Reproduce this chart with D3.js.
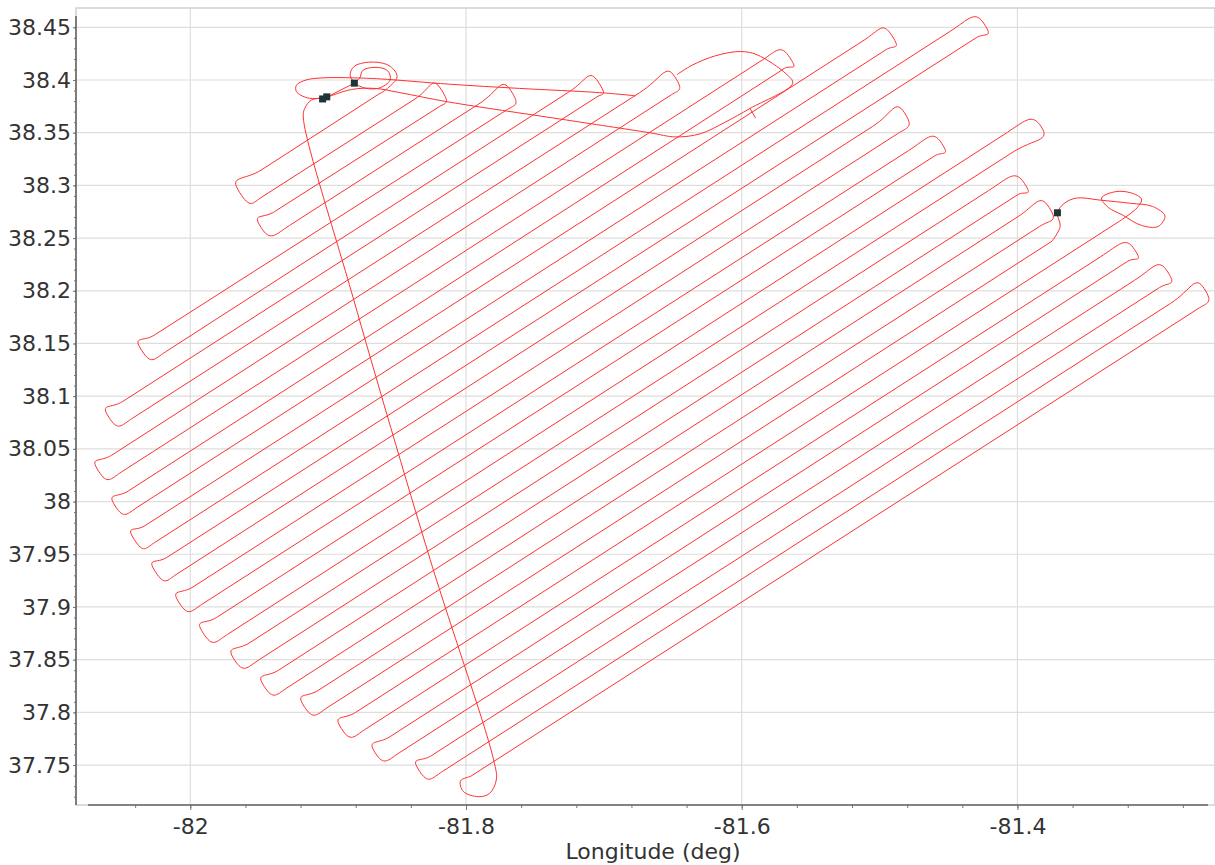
<!DOCTYPE html>
<html>
<head>
<meta charset="utf-8">
<script src="https://cdn.jsdelivr.net/npm/d3@7"></script>
<style>
  body { margin: 0; background: #fff; }
  svg { display: block; font-family: "DejaVu Sans", Verdana, sans-serif; }
  .grid line { stroke: #dedede; stroke-width: 1.2; }
  .track path { fill: none; stroke: #ff3030; stroke-width: 1; }
  .axis text { font-family: "DejaVu Sans", Verdana, sans-serif; font-size: 22px; fill: #333; }
  .axis line { stroke: #777; }
  .axis path { display: none; }
</style>
</head>
<body>
<script>
/*
 * Survey flight track, longitude / latitude (deg).
 * Survey lines run SW-NE; k = 0 is the SE-most line, k = 32 the NW-most.
 */

const lineWestLon = [-81.797, -81.817, -81.825, -81.848, -81.855, -81.873, -81.880, -81.900, -81.907, -81.929,
  -81.936, -81.950, -81.957, -81.973, -81.981, -81.991, -81.998, -82.010, -82.017, -82.026,
  -82.033, -82.038, -82.045, -82.050, -82.057, -82.042, -82.049, -82.018, -82.026, -81.928,
  -81.939, -81.948, -81.948];
const lineWestLat = [37.739, 37.744, 37.759, 37.762, 37.777, 37.784, 37.800, 37.805, 37.821, 37.824,
  37.840, 37.850, 37.866, 37.874, 37.890, 37.903, 37.919, 37.931, 37.947, 37.961,
  37.977, 37.995, 38.010, 38.028, 38.044, 38.079, 38.095, 38.142, 38.158, 38.262,
  38.275, 38.289, 38.315];
const lineEastLon = [-81.269, -81.289, -81.297, -81.315, -81.320, -81.340, -81.326, -81.375, -81.384, -81.400,
  -81.400, -81.421, -81.404, -81.410, -81.460, -81.479, -81.487, -81.505, -81.430, -81.449,
  -81.495, -81.511, -81.569, -81.585, -81.651, -81.674, -81.705, -81.725, -81.770, -81.791,
  -81.819, -81.837, -81.864];
const lineEastLat = [38.183, 38.188, 38.203, 38.210, 38.228, 38.232, 38.266, 38.247, 38.261, 38.270,
  38.291, 38.295, 38.331, 38.348, 38.328, 38.333, 38.349, 38.356, 38.440, 38.446,
  38.429, 38.438, 38.411, 38.419, 38.386, 38.388, 38.384, 38.389, 38.372, 38.377,
  38.375, 38.382, 38.386];

// turn tips: west turns join line k and k + 1 (k odd), east turns join k and k + 1 (k even)
const westTurnLine = [1, 3, 5, 7, 9, 11, 13, 15, 17, 19, 21, 23, 25, 27, 29, 31];
const westTurnLon = [-81.839, -81.870, -81.894, -81.922, -81.951, -81.972, -81.995, -82.013,
  -82.031, -82.047, -82.060, -82.071, -82.063, -82.039, -81.956, -81.968];
const westTurnLat = [37.755, 37.770, 37.792, 37.815, 37.834, 37.858, 37.884, 37.914,
  37.945, 37.977, 38.007, 38.038, 38.088, 38.151, 38.275, 38.301];

const eastTurnLine = [0, 2, 4, 8, 10, 12, 14, 16, 18, 20, 22, 24, 26, 28, 30];
const eastTurnLon = [-81.265, -81.291, -81.315, -81.377, -81.395, -81.379, -81.455, -81.482,
  -81.424, -81.491, -81.565, -81.649, -81.704, -81.768, -81.818];
const eastTurnLat = [38.203, 38.218, 38.239, 38.279, 38.302, 38.348, 38.340, 38.369,
  38.453, 38.442, 38.421, 38.404, 38.398, 38.391, 38.391];

// ferry from the airfield down to the start of line 0
const ferryLon = [-81.902, -81.912, -81.917, -81.918, -81.882, -81.826, -81.780, -81.778,
  -81.783, -81.791, -81.802, -81.804, -81.797];
const ferryLat = [38.383, 38.381, 38.373, 38.364, 38.194, 37.945, 37.755, 37.736,
  37.723, 37.720, 37.725, 37.735, 37.739];

// orbits at the east end of line 6, back to the break point and into line 7
const eastLoopLon = [-81.326, -81.313, -81.310, -81.318, -81.329, -81.339, -81.334, -81.324, -81.310, -81.298,
  -81.293, -81.302, -81.318, -81.340, -81.357, -81.366, -81.371, -81.369, -81.375];
const eastLoopLat = [38.266, 38.279, 38.287, 38.293, 38.294, 38.288, 38.279, 38.272, 38.262, 38.261,
  38.271, 38.280, 38.283, 38.286, 38.288, 38.283, 38.274, 38.261, 38.247];

// orbits at the end of line 32, back to the airfield
const homeLoopLon = [-81.864, -81.857, -81.850, -81.855, -81.867, -81.881, -81.884, -81.877,
  -81.864, -81.855, -81.857, -81.866, -81.875, -81.877, -81.881];
const homeLoopLat = [38.386, 38.392, 38.403, 38.413, 38.417, 38.413, 38.404, 38.394,
  38.392, 38.400, 38.409, 38.412, 38.409, 38.402, 38.397];

// transit legs along the north edge
const northTransitLon = [-81.902, -81.915, -81.923, -81.923, -81.916, -81.904, -81.881, -81.862,
  -81.812, -81.761, -81.703, -81.677];
const northTransitLat = [38.383, 38.383, 38.389, 38.395, 38.400, 38.402, 38.402, 38.401,
  38.396, 38.392, 38.388, 38.385];

const southTransitLon = [-81.902, -81.883, -81.866, -81.848, -81.812, -81.732, -81.667, -81.648, -81.630,
  -81.612, -81.594, -81.563, -81.568, -81.589, -81.601, -81.619, -81.636, -81.647];
const southTransitLat = [38.383, 38.391, 38.392, 38.388, 38.379, 38.363, 38.350, 38.346, 38.349,
  38.360, 38.373, 38.397, 38.406, 38.424, 38.427, 38.423, 38.414, 38.405];

const airfieldLinkLon = [-81.902, -81.881];
const airfieldLinkLat = [38.383, 38.397];
const spurLon = [-81.594, -81.590];
const spurLat = [38.373, 38.364];

// dark markers (record start / stop)
const markerLon = [-81.904, -81.901, -81.881, -81.371];
const markerLat = [38.382, 38.384, 38.397, 38.274];

// axis ticks
const xTickValues = [-82, -81.8, -81.6, -81.4];
const yTickValues = [37.75, 37.8, 37.85, 37.9, 37.95, 38, 38.05, 38.1, 38.15, 38.2, 38.25, 38.3, 38.35, 38.4, 38.45];

/*
 * Layout.
 */

const WIDTH = 1215;
const HEIGHT = 865;
const PLOT_LEFT = 76;
const PLOT_RIGHT = 1215;
const PLOT_TOP = 8;
const PLOT_BOTTOM = 805;

const x = d3.scaleLinear().domain([-82.0829, -81.2567]).range([PLOT_LEFT, PLOT_RIGHT]);
const y = d3.scaleLinear().domain([37.7121, 38.4683]).range([PLOT_BOTTOM, PLOT_TOP]);

const zip = (lons, lats) => lons.map((lon, i) => [lon, lats[i]]);
const px = (lon, lat) => [x(lon), y(lat)];

const svg = d3.select('body')
  .append('svg')
    .attr('width', WIDTH)
    .attr('height', HEIGHT);

svg.append('rect')
    .attr('width', WIDTH)
    .attr('height', HEIGHT)
    .attr('fill', '#fff');

// grid
const grid = svg.append('g').attr('class', 'grid');
grid.selectAll('.vgrid')
  .data(xTickValues)
  .enter()
  .append('line')
    .attr('class', 'vgrid')
    .attr('x1', d => x(d))
    .attr('x2', d => x(d))
    .attr('y1', PLOT_TOP)
    .attr('y2', PLOT_BOTTOM);
grid.selectAll('.hgrid')
  .data(yTickValues)
  .enter()
  .append('line')
    .attr('class', 'hgrid')
    .attr('x1', PLOT_LEFT)
    .attr('x2', PLOT_RIGHT)
    .attr('y1', d => y(d))
    .attr('y2', d => y(d));

// plot outline
svg.append('rect')
    .attr('x', PLOT_LEFT)
    .attr('y', PLOT_TOP)
    .attr('width', PLOT_RIGHT - PLOT_LEFT)
    .attr('height', PLOT_BOTTOM - PLOT_TOP)
    .attr('fill', 'none')
    .attr('stroke', '#cfcfcf')
    .attr('stroke-width', 1.5);

/*
 * Track.
 */

const track = svg.append('g').attr('class', 'track');

const straight = d3.line()
    .x(d => x(d[0]))
    .y(d => y(d[1]));

const smooth = d3.line()
    .x(d => x(d[0]))
    .y(d => y(d[1]))
    .curve(d3.curveCatmullRom.alpha(0.5));

// survey lines
track.selectAll('.survey')
  .data(lineWestLon.map((lon, k) => [[lon, lineWestLat[k]], [lineEastLon[k], lineEastLat[k]]]))
  .enter()
  .append('path')
    .attr('class', 'survey')
    .attr('d', straight);

// a turn from the end of line a, out to the tip, back into line b
const turnPath = (side, a, b, tipLon, tipLat) => {
  const ends = side === 'west'
    ? [lineWestLon, lineWestLat, lineEastLon, lineEastLat]
    : [lineEastLon, lineEastLat, lineWestLon, lineWestLat];
  const pa = px(ends[0][a], ends[1][a]);
  const qa = px(ends[2][a], ends[3][a]);
  const pb = px(ends[0][b], ends[1][b]);
  const tip = px(tipLon, tipLat);

  // outward direction along the line
  let ux = pa[0] - qa[0], uy = pa[1] - qa[1];
  const ul = Math.hypot(ux, uy);
  ux /= ul; uy /= ul;

  // direction across, from line a to line b
  const dx = pb[0] - pa[0], dy = pb[1] - pa[1];
  const along = dx * ux + dy * uy;
  let wx = dx - along * ux, wy = dy - along * uy;
  const gap = Math.hypot(wx, wy);
  wx /= gap; wy /= gap;

  // how far out the tip is, and where across the gap it sits
  const reach = (tip[0] - pa[0]) * ux + (tip[1] - pa[1]) * uy;
  const across = Math.min(0.7, Math.max(0.3, ((tip[0] - pa[0]) * wx + (tip[1] - pa[1]) * wy) / gap));
  const apex = [pa[0] + ux * reach + wx * gap * across, pa[1] + uy * reach + wy * gap * across];

  const reachA = Math.max(3, reach * 0.7);
  const reachB = Math.max(3, (reach - along) * 0.7);
  const r = gap * 0.9;

  const p = d3.path();
  p.moveTo(pa[0], pa[1]);
  p.bezierCurveTo(pa[0] + ux * reachA, pa[1] + uy * reachA,
                  apex[0] - wx * r, apex[1] - wy * r, apex[0], apex[1]);
  p.bezierCurveTo(apex[0] + wx * r, apex[1] + wy * r,
                  pb[0] + ux * reachB, pb[1] + uy * reachB, pb[0], pb[1]);
  return p.toString();
};

track.selectAll('.west-turn')
  .data(westTurnLine)
  .enter()
  .append('path')
    .attr('class', 'west-turn')
    .attr('d', (k, i) => turnPath('west', k, k + 1, westTurnLon[i], westTurnLat[i]));

track.selectAll('.east-turn')
  .data(eastTurnLine)
  .enter()
  .append('path')
    .attr('class', 'east-turn')
    .attr('d', (k, i) => turnPath('east', k, k + 1, eastTurnLon[i], eastTurnLat[i]));

// ferry, orbits and transits
[
  [ferryLon, ferryLat],
  [eastLoopLon, eastLoopLat],
  [homeLoopLon, homeLoopLat],
  [northTransitLon, northTransitLat],
  [southTransitLon, southTransitLat]
].forEach(([lons, lats]) => {
  track.append('path').attr('d', smooth(zip(lons, lats)));
});

[
  [airfieldLinkLon, airfieldLinkLat],
  [spurLon, spurLat]
].forEach(([lons, lats]) => {
  track.append('path').attr('d', straight(zip(lons, lats)));
});

// markers
svg.append('g')
  .selectAll('rect')
  .data(zip(markerLon, markerLat))
  .enter()
  .append('rect')
    .attr('x', d => x(d[0]) - 3.5)
    .attr('y', d => y(d[1]) - 3.5)
    .attr('width', 7)
    .attr('height', 7)
    .attr('fill', '#1d3535');

/*
 * Axes.
 */

const xAxis = svg.append('g')
    .attr('class', 'axis')
    .attr('transform', `translate(0, ${PLOT_BOTTOM})`)
    .call(d3.axisBottom(x)
      .tickValues(xTickValues)
      .tickSize(5)
      .tickFormat(d => String(d)));
xAxis.selectAll('text').attr('y', 13.5);

const xMinor = d3.range(0, 21).map(i => +(-82.04 + i * 0.04).toFixed(2))
    .filter(v => x(v) > PLOT_LEFT + 10 && x(v) < PLOT_RIGHT - 5);
svg.append('g')
    .attr('class', 'axis')
    .attr('transform', `translate(0, ${PLOT_BOTTOM})`)
    .call(d3.axisBottom(x).tickValues(xMinor).tickSize(3).tickFormat(''));

const yAxis = svg.append('g')
    .attr('class', 'axis')
    .attr('transform', `translate(${PLOT_LEFT}, 0)`)
    .call(d3.axisLeft(y)
      .tickValues(yTickValues)
      .tickSize(3)
      .tickFormat(d => String(d)));
yAxis.selectAll('text').attr('x', -5);

const yMinor = d3.range(0, 75).map(i => +(37.72 + i * 0.01).toFixed(2))
    .filter(v => y(v) < PLOT_BOTTOM - 3 && y(v) > PLOT_TOP + 9);
svg.append('g')
    .attr('class', 'axis')
    .attr('transform', `translate(${PLOT_LEFT}, 0)`)
    .call(d3.axisLeft(y).tickValues(yMinor).tickSize(2).tickFormat(''));

// axis lines
svg.append('line')
    .attr('x1', PLOT_LEFT)
    .attr('x2', PLOT_LEFT)
    .attr('y1', PLOT_TOP + 8)
    .attr('y2', PLOT_BOTTOM)
    .attr('stroke', '#666')
    .attr('stroke-width', 1.6);
svg.append('line')
    .attr('x1', PLOT_LEFT + 12)
    .attr('x2', PLOT_RIGHT - 7)
    .attr('y1', PLOT_BOTTOM)
    .attr('y2', PLOT_BOTTOM)
    .attr('stroke', '#666')
    .attr('stroke-width', 1.6);

// axis title
svg.append('text')
    .attr('x', 653)
    .attr('y', 859)
    .attr('text-anchor', 'middle')
    .attr('font-size', 22)
    .attr('fill', '#333')
    .text('Longitude (deg)');
</script>
</body>
</html>
